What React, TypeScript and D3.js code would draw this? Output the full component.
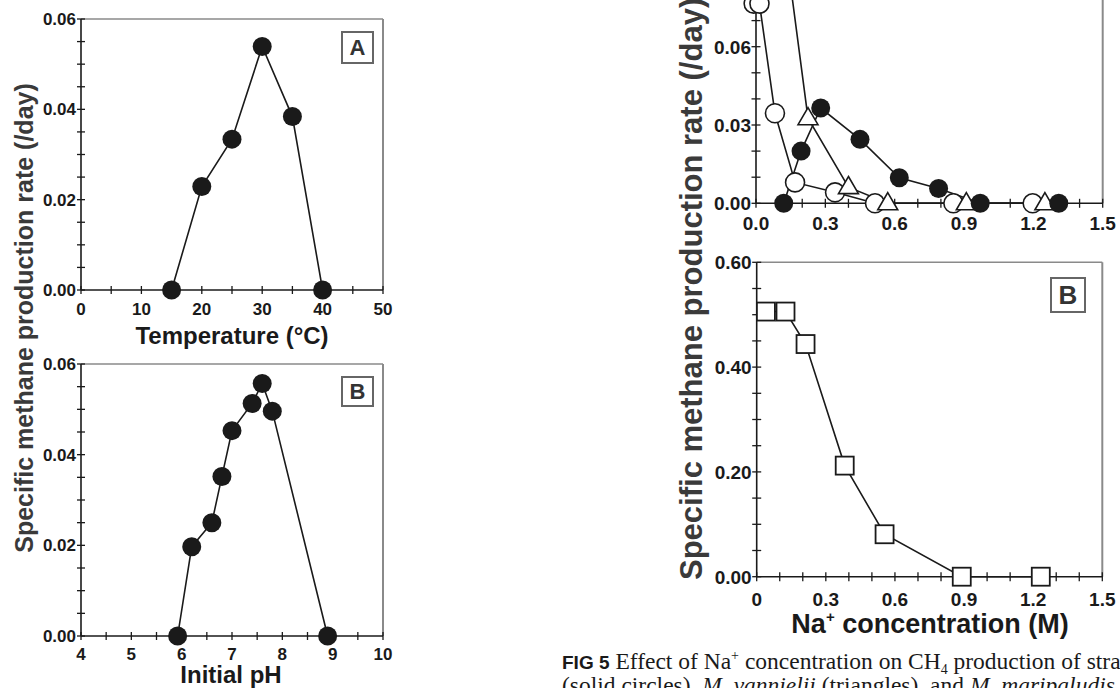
import React from "react";
import * as d3 from "d3";

// ---------- Data ----------
// Left A: temperature
const tempC = [15, 20, 25, 30, 35, 40];
const tempRate = [0, 0.0229, 0.0334, 0.0539, 0.0384, 0];
// Left B: initial pH
const phValues = [5.92, 6.2, 6.6, 6.8, 7.0, 7.4, 7.6, 7.8, 8.9];
const phRate = [0, 0.0197, 0.025, 0.0352, 0.0453, 0.0513, 0.0557, 0.0496, 0];
// Right A: Na+ concentration, three series
const naSolidX = [0.12, 0.195, 0.28, 0.45, 0.62, 0.79, 0.97, 1.31];
const naSolidY = [0, 0.02, 0.0365, 0.0245, 0.0098, 0.0057, 0, 0];
const naTriX = [0.14, 0.225, 0.4, 0.57, 0.91, 1.25];
const naTriY = [0.09, 0.0326, 0.0062, 0, 0, 0];
const naOpenX = [-0.01, 0.015, 0.082, 0.169, 0.342, 0.515, 0.854, 1.197];
const naOpenY = [0.0765, 0.0765, 0.0345, 0.008, 0.0042, 0, 0, 0];
// Right B: squares
const naSqX = [0.04, 0.125, 0.212, 0.382, 0.555, 0.89, 1.233];
const naSqY = [0.506, 0.506, 0.444, 0.212, 0.081, 0, 0];

// Tick labels
const tempTicks = [0, 10, 20, 30, 40, 50];
const phTicks = [4, 5, 6, 7, 8, 9, 10];
const leftYTicks = [0, 0.02, 0.04, 0.06];
const naXTicks = [0, 0.3, 0.6, 0.9, 1.2, 1.5];
const rightAYTicks = [0, 0.03, 0.06];
const rightBYTicks = [0, 0.2, 0.4, 0.6];

const SANS = "'Liberation Sans', Arial, Helvetica, sans-serif";
const SERIF = "'Liberation Serif', 'Times New Roman', serif";
const INK = "#1a1a1a";
const FRAME = "#8a8a8a";

type PanelProps = {
  x0: number; x1: number; yTop: number; yBot: number;
  xDomain: [number, number]; yDomain: [number, number];
  xMinorStep: number; yMinorStep: number;
  xTicks: number[]; yTicks: number[];
  fmtX: (v: number) => string; fmtY: (v: number) => string;
  fontSize: number; xLabelDy: number; tick: number;
  yAxisTop?: number;
  children: (x: d3.ScaleLinear<number, number>, y: d3.ScaleLinear<number, number>) => React.ReactNode;
};

function Panel(p: PanelProps) {
  const x = d3.scaleLinear().domain(p.xDomain).range([p.x0, p.x1]);
  const y = d3.scaleLinear().domain(p.yDomain).range([p.yBot, p.yTop]);
  const nX = Math.round((p.xDomain[1] - p.xDomain[0]) / p.xMinorStep);
  const xMinor = d3.range(nX + 1).map((i) => p.xDomain[0] + i * p.xMinorStep);
  const nY = Math.round((p.yDomain[1] - p.yDomain[0]) / p.yMinorStep);
  const yMinor = d3.range(nY + 1).map((i) => p.yDomain[0] + i * p.yMinorStep);
  const top = p.yAxisTop ?? p.yTop;
  return (
    <g>
      <line x1={p.x0} x2={p.x1} y1={top} y2={top} stroke={FRAME} strokeWidth={1.5} />
      <line x1={p.x1} x2={p.x1} y1={top} y2={p.yBot} stroke={FRAME} strokeWidth={2} />
      <line x1={p.x0} x2={p.x1} y1={p.yBot} y2={p.yBot} stroke={INK} strokeWidth={1.6} />
      <line x1={p.x0} x2={p.x0} y1={top} y2={p.yBot} stroke={INK} strokeWidth={1.6} />
      {xMinor.map((v, i) => (
        <line key={"xt" + i} x1={x(v)} x2={x(v)} y1={p.yBot - p.tick} y2={p.yBot + p.tick} stroke={INK} strokeWidth={1.3} />
      ))}
      {yMinor.map((v, i) => (
        <line key={"yt" + i} x1={p.x0 - p.tick} x2={p.x0 + p.tick} y1={y(v)} y2={y(v)} stroke={INK} strokeWidth={1.3} />
      ))}
      {p.xTicks.map((v, i) => (
        <text key={"xl" + i} x={x(v)} y={p.yBot + p.xLabelDy} textAnchor="middle" fontFamily={SANS} fontWeight="bold" fontSize={p.fontSize} fill={INK}>
          {p.fmtX(v)}
        </text>
      ))}
      {p.yTicks.map((v, i) => (
        <text key={"yl" + i} x={p.x0 - 5} y={y(v)} dy="0.36em" textAnchor="end" fontFamily={SANS} fontWeight="bold" fontSize={p.fontSize} fill={INK}>
          {p.fmtY(v)}
        </text>
      ))}
      {p.children(x, y)}
    </g>
  );
}

function Series({ xs, ys, x, y }: { xs: number[]; ys: number[]; x: any; y: any }) {
  const pts = xs.map((v, i) => [x(v), y(ys[i])] as [number, number]);
  const path = d3.line()(pts) || "";
  return <path d={path} fill="none" stroke={INK} strokeWidth={1.6} />;
}

function Markers({ xs, ys, x, y, shape, r }: { xs: number[]; ys: number[]; x: any; y: any; shape: string; r: number }) {
  return (
    <g>
      {xs.map((v, i) => {
        const cx = x(v);
        const cy = y(ys[i]);
        if (shape === "solid") return <circle key={i} cx={cx} cy={cy} r={r} fill={INK} />;
        if (shape === "open") return <circle key={i} cx={cx} cy={cy} r={r} fill="#fff" stroke={INK} strokeWidth={1.6} />;
        if (shape === "square")
          return <rect key={i} x={cx - r} y={cy - r} width={2 * r} height={2 * r} fill="#fff" stroke={INK} strokeWidth={1.8} />;
        const h = r * 1.8;
        const pts = `${cx},${cy - h * 0.62} ${cx + r * 1.05},${cy + h * 0.38} ${cx - r * 1.05},${cy + h * 0.38}`;
        return <polygon key={i} points={pts} fill="#fff" stroke={INK} strokeWidth={1.6} />;
      })}
    </g>
  );
}

function LabelBox({ x, y, w, h, label, size }: { x: number; y: number; w: number; h: number; label: string; size: number }) {
  return (
    <g>
      <rect x={x} y={y} width={w} height={h} fill="#fff" stroke="#666" strokeWidth={2} />
      <text x={x + w / 2} y={y + h / 2} dy="0.36em" textAnchor="middle" fontFamily={SANS} fontWeight="bold" fontSize={size} fill="#333">
        {label}
      </text>
    </g>
  );
}

const fmt2 = d3.format(".2f");
const fmtInt = d3.format("d");
const fmtNa = (v: number) => (v === 0 ? "0" : v.toFixed(1));
const fmtNa1 = (v: number) => v.toFixed(1);

export default function App() {
  return (
    <svg width={1120} height={688} style={{ position: "absolute", left: 0, top: 0, background: "#fff" }}>
      <rect width={1120} height={688} fill="#fff" />
      {/* Left A */}
      <Panel x0={81} x1={383} yTop={19} yBot={290} xDomain={[0, 50]} yDomain={[0, 0.06]}
        xMinorStep={5} yMinorStep={0.005} xTicks={tempTicks} yTicks={leftYTicks}
        fmtX={fmtInt} fmtY={fmt2} fontSize={17} xLabelDy={25} tick={4}>
        {(x, y) => (
          <g>
            <Series xs={tempC} ys={tempRate} x={x} y={y} />
            <Markers xs={tempC} ys={tempRate} x={x} y={y} shape="solid" r={9.5} />
          </g>
        )}
      </Panel>
      <LabelBox x={342} y={32} w={31} h={31} label="A" size={22} />
      <text x={232} y={344} textAnchor="middle" fontFamily={SANS} fontWeight="bold" fontSize={24} fill={INK}>
        Temperature (°C)
      </text>

      {/* Left B */}
      <Panel x0={81} x1={383} yTop={364} yBot={636} xDomain={[4, 10]} yDomain={[0, 0.06]}
        xMinorStep={0.5} yMinorStep={0.005} xTicks={phTicks} yTicks={leftYTicks}
        fmtX={fmtInt} fmtY={fmt2} fontSize={17} xLabelDy={24} tick={4}>
        {(x, y) => (
          <g>
            <Series xs={phValues} ys={phRate} x={x} y={y} />
            <Markers xs={phValues} ys={phRate} x={x} y={y} shape="solid" r={9.5} />
          </g>
        )}
      </Panel>
      <LabelBox x={342} y={377} w={31} h={29} label="B" size={22} />
      <text x={231} y={683} textAnchor="middle" fontFamily={SANS} fontWeight="bold" fontSize={24} fill={INK}>
        Initial pH
      </text>

      {/* Left shared y title */}
      <text transform="translate(33,318) rotate(-90)" textAnchor="middle" fontFamily={SANS} fontWeight="bold" fontSize={25} fill="#3a3a3a">
        Specific methane production rate (/day)
      </text>

      {/* Right A (top cut off) */}
      <Panel x0={756} x1={1102.7} yTop={46.7} yBot={203.3} xDomain={[0, 1.5]} yDomain={[0, 0.06]}
        xMinorStep={0.1} yMinorStep={0.01} xTicks={naXTicks} yTicks={rightAYTicks}
        fmtX={fmtNa1} fmtY={fmt2} fontSize={19} xLabelDy={27} tick={4.5} yAxisTop={-20}>
        {(x, y) => {
          const yMinorExtra = [0.07, 0.08];
          return (
            <g>
              {yMinorExtra.map((v, i) => (
                <line key={i} x1={756 - 4.5} x2={756 + 4.5} y1={y(v)} y2={y(v)} stroke={INK} strokeWidth={1.3} />
              ))}
              <Series xs={naOpenX} ys={naOpenY} x={x} y={y} />
              <Series xs={naTriX} ys={naTriY} x={x} y={y} />
              <Series xs={naSolidX} ys={naSolidY} x={x} y={y} />
              <Markers xs={naOpenX} ys={naOpenY} x={x} y={y} shape="open" r={9.5} />
              <Markers xs={naTriX} ys={naTriY} x={x} y={y} shape="tri" r={9.5} />
              <Markers xs={naSolidX} ys={naSolidY} x={x} y={y} shape="solid" r={9.5} />
            </g>
          );
        }}
      </Panel>

      {/* Right B */}
      <Panel x0={756.7} x1={1102.3} yTop={262.3} yBot={576.7} xDomain={[0, 1.5]} yDomain={[0, 0.6]}
        xMinorStep={0.1} yMinorStep={0.05} xTicks={naXTicks} yTicks={rightBYTicks}
        fmtX={fmtNa} fmtY={fmt2} fontSize={19} xLabelDy={29} tick={4.5}>
        {(x, y) => (
          <g>
            <Series xs={naSqX} ys={naSqY} x={x} y={y} />
            <Markers xs={naSqX} ys={naSqY} x={x} y={y} shape="square" r={9} />
          </g>
        )}
      </Panel>
      <LabelBox x={1051} y={278} w={34} h={34} label="B" size={26} />
      <text x={930} y={633} textAnchor="middle" fontFamily={SANS} fontWeight="bold" fontSize={27} fill={INK}>
        Na<tspan fontSize={15} dy={-11}>+</tspan><tspan dy={11}> concentration (M)</tspan>
      </text>

      {/* Right shared y title (cut at the top) */}
      <text transform="translate(702,580) rotate(-90)" textAnchor="start" fontFamily={SANS} fontWeight="bold" fontSize={31} fill="#3a3a3a">
        Specific methane production rate (/day)
      </text>

      {/* Caption (cut off at right and bottom) */}
      <text x={562} y={669} fontFamily={SERIF} fontSize={23.5} fill={INK}>
        <tspan fontWeight="bold" fontFamily={SANS} fontSize={19}>FIG 5</tspan>
        <tspan> Effect of Na</tspan>
        <tspan fontSize={14} dy={-9}>+</tspan>
        <tspan dy={9}> concentration on CH</tspan>
        <tspan fontSize={14} dy={5}>4</tspan>
        <tspan dy={-5}> production of strain ZM-5</tspan>
      </text>
      <text x={562} y={693} fontFamily={SERIF} fontSize={23.5} fill={INK}>
        <tspan>(solid circles), </tspan>
        <tspan fontStyle="italic">M. vannielii</tspan>
        <tspan> (triangles), and </tspan>
        <tspan fontStyle="italic">M. maripaludis</tspan>
        <tspan> (open circles)</tspan>
      </text>
    </svg>
  );
}
